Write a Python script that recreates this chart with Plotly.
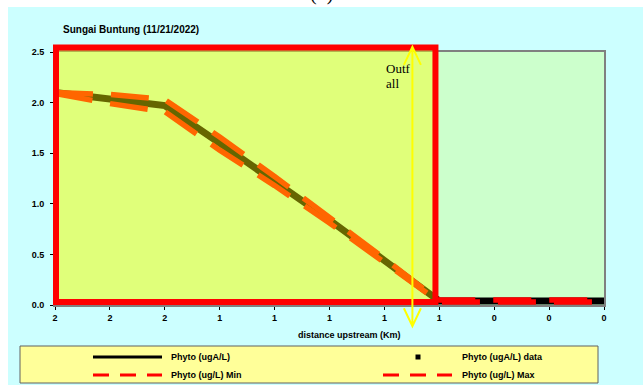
import plotly.graph_objects as go

# ---------------- data ----------------
distance_km = [2.0, 1.8, 1.6, 1.4, 1.2, 1.0, 0.8, 0.62, 0.6, 0.4, 0.2, 0.0]
phyto_model = [2.10, 2.03, 1.97, 1.60, 1.23, 0.84, 0.44, 0.07, 0.04, 0.04, 0.04, 0.04]
phyto_max   = [2.10, 2.08, 2.03, 1.66, 1.27, 0.87, 0.46, 0.08, 0.05, 0.05, 0.05, 0.05]
phyto_min   = [2.09, 1.99, 1.91, 1.53, 1.18, 0.81, 0.42, 0.06, 0.03, 0.03, 0.03, 0.03]

x_tick_vals = [2.0, 1.8, 1.6, 1.4, 1.2, 1.0, 0.8, 0.6, 0.4, 0.2, 0.0]
y_tick_vals = [0.0, 0.5, 1.0, 1.5, 2.0, 2.5]

x_range = [2.0, 0.0]
y_range = [0.0, 2.5]

outfall_x = 0.698          # outfall location (km)
zone_edge_x = 0.614        # end of highlighted reach (km)
arrow_y = [-0.21, 2.55]
zone_y = [0.03, 2.545]

title_text = "Sungai Buntung (11/21/2022)"
xaxis_title = "distance upstream (Km)"
legend_names = ["Phyto (ugA/L)", "Phyto (ugA/L) data", "Phyto (ug/L) Min", "Phyto (ug/L) Max"]

# ---------------- geometry ----------------
W, H = 643, 385
ML, MR, MT, MB = 55, 39, 52, 80
PW, PH = W - ML - MR, H - MT - MB


def px2p(px):
    return (px - ML) / PW


def py2p(py):
    return (H - MB - py) / PH


def xd(v):  # data x -> paper fraction (reversed axis)
    return (x_range[0] - v) / (x_range[0] - x_range[1])


def yd(v):
    return (v - y_range[0]) / (y_range[1] - y_range[0])


BOLD = "Liberation Sans"

fig = go.Figure()

fig.add_trace(go.Scatter(x=distance_km, y=phyto_model, mode="lines",
                         line=dict(color="black", width=7), name=legend_names[0],
                         showlegend=False))
fig.add_trace(go.Scatter(x=distance_km, y=phyto_min, mode="lines",
                         line=dict(color="#FF0000", width=5.5, dash="38px,18px"),
                         name=legend_names[2], showlegend=False))
fig.add_trace(go.Scatter(x=distance_km, y=phyto_max, mode="lines",
                         line=dict(color="#FF0000", width=5.5, dash="38px,18px"),
                         name=legend_names[3], showlegend=False))

shapes = []
# white strips outside the chart image
shapes.append(dict(type="rect", xref="paper", yref="paper", x0=px2p(0), x1=px2p(W),
                   y0=py2p(0), y1=py2p(7), fillcolor="white", line=dict(width=0), layer="below"))
shapes.append(dict(type="rect", xref="paper", yref="paper", x0=px2p(0), x1=px2p(8),
                   y0=py2p(0), y1=py2p(H), fillcolor="white", line=dict(width=0), layer="below"))

# highlighted reach (semi-transparent yellow with red border)
shapes.append(dict(type="rect", xref="paper", yref="paper",
                   x0=xd(x_range[0]) + 1 / PW, x1=xd(zone_edge_x),
                   y0=yd(zone_y[0]), y1=yd(zone_y[1]),
                   fillcolor="rgba(255,255,0,0.4)",
                   line=dict(color="#FF0000", width=6), layer="above"))

# outfall double arrow
ax = xd(outfall_x)
ytop, ybot = yd(arrow_y[1]), yd(arrow_y[0])
hw, hl = 8.5 / PW, 18 / PH
arrow_path = (f"M {ax} {ybot} L {ax} {ytop} "
              f"M {ax - hw} {ytop - hl} L {ax} {ytop} L {ax + hw} {ytop - hl} "
              f"M {ax - hw} {ybot + hl} L {ax} {ybot} L {ax + hw} {ybot + hl}")
shapes.append(dict(type="path", xref="paper", yref="paper", path=arrow_path,
                   line=dict(color="#FFFF00", width=2), layer="above"))

# legend box
shapes.append(dict(type="rect", xref="paper", yref="paper", x0=px2p(20), x1=px2p(598),
                   y0=py2p(383), y1=py2p(346), fillcolor="#FFFF99",
                   line=dict(color="#606060", width=1)))
# legend samples
row1, row2 = 357, 375
shapes.append(dict(type="line", xref="paper", yref="paper", x0=px2p(93), x1=px2p(162),
                   y0=py2p(row1), y1=py2p(row1), line=dict(color="black", width=3)))
shapes.append(dict(type="rect", xref="paper", yref="paper", x0=px2p(415.5), x1=px2p(420.5),
                   y0=py2p(row1 + 2.5), y1=py2p(row1 - 2.5), fillcolor="black",
                   line=dict(width=0)))
for x0 in (93, 383):
    shapes.append(dict(type="line", xref="paper", yref="paper", x0=px2p(x0), x1=px2p(x0 + 69),
                       y0=py2p(row2), y1=py2p(row2),
                       line=dict(color="#FF0000", width=3, dash="16px,11px")))

annotations = []
annotations.append(dict(text=title_text, xref="paper", yref="paper", x=px2p(61), y=py2p(29),
                        xanchor="left", yanchor="middle", showarrow=False,
                        font=dict(family=BOLD, size=10, color="black", weight="bold")))
annotations.append(dict(text=xaxis_title, xref="paper", yref="paper", x=px2p(349), y=py2p(335),
                        xanchor="center", yanchor="middle", showarrow=False,
                        font=dict(family=BOLD, size=9, color="black", weight="bold")))
annotations.append(dict(text="(d)", xref="paper", yref="paper", x=px2p(321), y=py2p(7),
                        xanchor="center", yanchor="bottom", showarrow=False,
                        font=dict(family="Liberation Serif", size=20, color="black")))
for txt, cy in (("Outf", 68.5), ("all", 83.5)):
    annotations.append(dict(text=txt, xref="paper", yref="paper", x=px2p(383.5), y=py2p(cy),
                            xanchor="left", yanchor="middle", showarrow=False,
                            font=dict(family="Liberation Serif", size=13, color="black")))
for txt, lx, ly in ((legend_names[0], 169, row1), (legend_names[1], 460, row1),
                    (legend_names[2], 169, row2), (legend_names[3], 460, row2)):
    annotations.append(dict(text=txt, xref="paper", yref="paper", x=px2p(lx), y=py2p(ly),
                            xanchor="left", yanchor="middle", showarrow=False,
                            font=dict(family=BOLD, size=9, color="black", weight="bold")))

fig.update_layout(
    width=W, height=H, autosize=False,
    margin=dict(l=ML, r=MR, t=MT, b=MB, pad=0),
    paper_bgcolor="#CCFFFF", plot_bgcolor="#CCFFCC",
    showlegend=False,
    shapes=shapes, annotations=annotations,
    xaxis=dict(range=x_range, tickvals=x_tick_vals, tickformat=".0f",
               showgrid=False, zeroline=False, showline=True, linecolor="#808080",
               linewidth=2, mirror=True, ticks="outside", ticklen=3, tickcolor="black",
               tickwidth=1, tickfont=dict(family=BOLD, size=9, color="black", weight="bold")),
    yaxis=dict(range=y_range, tickvals=y_tick_vals, tickformat=".1f",
               showgrid=False, zeroline=False, showline=True, linecolor="#808080",
               linewidth=2, mirror=True, ticks="outside", ticklen=3, tickcolor="black",
               tickwidth=1, ticklabelstandoff=4,
               tickfont=dict(family=BOLD, size=9, color="black", weight="bold")),
)

fig.write_html("out.html")
